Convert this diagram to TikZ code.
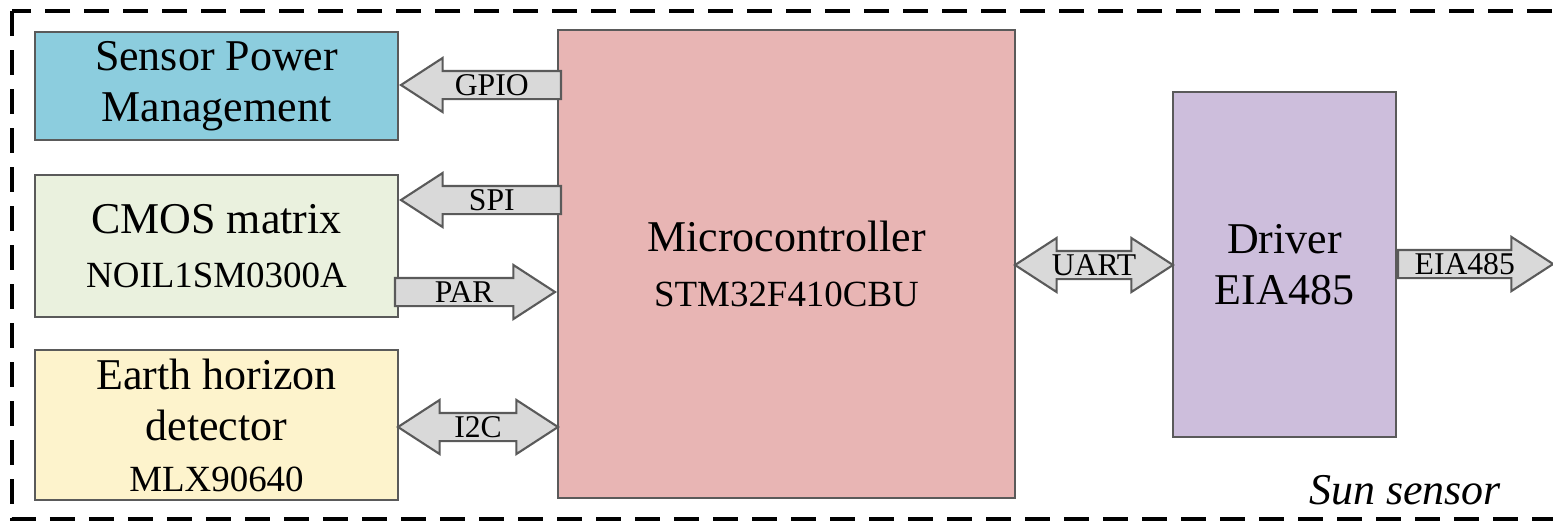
\documentclass[tikz,border=0pt]{standalone}
\usepackage{fontspec}
\setmainfont{Liberation Serif}
\usetikzlibrary{shapes.arrows,calc}

\newlength{\du}
\setlength{\du}{0.01cm}

\definecolor{pmcolor}{RGB}{140,205,222}
\definecolor{cmoscolor}{RGB}{234,241,222}
\definecolor{ehdcolor}{RGB}{253,243,204}
\definecolor{mcucolor}{RGB}{232,181,180}
\definecolor{drvcolor}{RGB}{205,190,220}
\definecolor{linecolor}{RGB}{90,90,90}

\tikzset{
  unit/.style={draw=linecolor, line width=0.6pt, align=center, inner sep=0pt,
    font=\fontsize{12.5}{14.5}\selectfont},
  blk/.style={draw=linecolor, fill=gray!30, line width=0.6pt, inner xsep=0pt,
    inner ysep=0pt, text height=6.6pt, text depth=0.8pt, minimum width=0pt,
    font=\fontsize{9}{9}\selectfont},
  larrow/.style={blk, single arrow, shape border rotate=180,
    single arrow head extend=13\du, single arrow tip angle=66},
  rarrow/.style={blk, single arrow,
    single arrow head extend=13\du, single arrow tip angle=66},
  darrow/.style={blk, double arrow,
    double arrow head extend=13\du, double arrow tip angle=66},
  frame/.style={line width=1.1pt, dash pattern=on 25\du off 14\du}
}
\newcommand{\partno}[1]{{\fontsize{10.5}{14.5}\selectfont #1}}

\begin{document}
\begin{tikzpicture}
\pgftransformyscale{-1.000000}
\useasboundingbox (0\du,0\du) rectangle (1553\du,526\du);

% outer frame, right side falls off the page
\begin{scope}
\clip (0\du,0\du) rectangle (1553\du,526\du);
\draw[frame] (12\du,11\du) rectangle (1600\du,519\du);
\end{scope}

% blocks
\node[unit, fill=pmcolor, minimum width=363\du, minimum height=108\du] (pm) at (216.5\du,86\du)
  {Sensor Power\\Management};
\node[unit, fill=cmoscolor, minimum width=363\du, minimum height=142\du] (cmos) at (216.5\du,246\du)
  {CMOS matrix\\[1pt]\partno{NOIL1SM0300A}};
\node[unit, fill=ehdcolor, minimum width=363\du, minimum height=150\du] (ehd) at (216.5\du,425\du)
  {Earth horizon\\detector\\\partno{MLX90640}};
\node[unit, fill=mcucolor, minimum width=457\du, minimum height=468\du] (mcu) at (786.5\du,264\du)
  {Microcontroller\\[1pt]\partno{STM32F410CBU}};
\node[unit, fill=drvcolor, minimum width=223\du, minimum height=345\du] (drv) at (1284.5\du,264.5\du)
  {Driver\\EIA485};

% buses
\node[larrow, minimum height=160\du, anchor=tip] (gpio) at (pm.east |- 0,85\du) {GPIO};
\node[larrow, minimum height=160\du, anchor=tip] (spi) at (cmos.east |- 0,200\du) {SPI};
\node[rarrow, minimum height=160\du, anchor=tip] (par) at (mcu.west |- 0,292\du) {PAR};
\node[darrow, minimum height=160\du] (i2c) at ($(ehd.east |- 0,427\du)!0.5!(mcu.west |- 0,427\du)$) {I2C};
\node[darrow, minimum height=158\du] (uart) at ($(mcu.east |- 0,265\du)!0.5!(drv.west |- 0,265\du)$) {UART};
\node[rarrow, minimum height=155\du, anchor=tail] (eia) at (drv.east |- 0,264\du) {EIA485};

\node[font=\fontsize{12.5}{15}\selectfont\itshape] (title) at (1405\du,490\du) {Sun sensor};
\end{tikzpicture}
\end{document}
